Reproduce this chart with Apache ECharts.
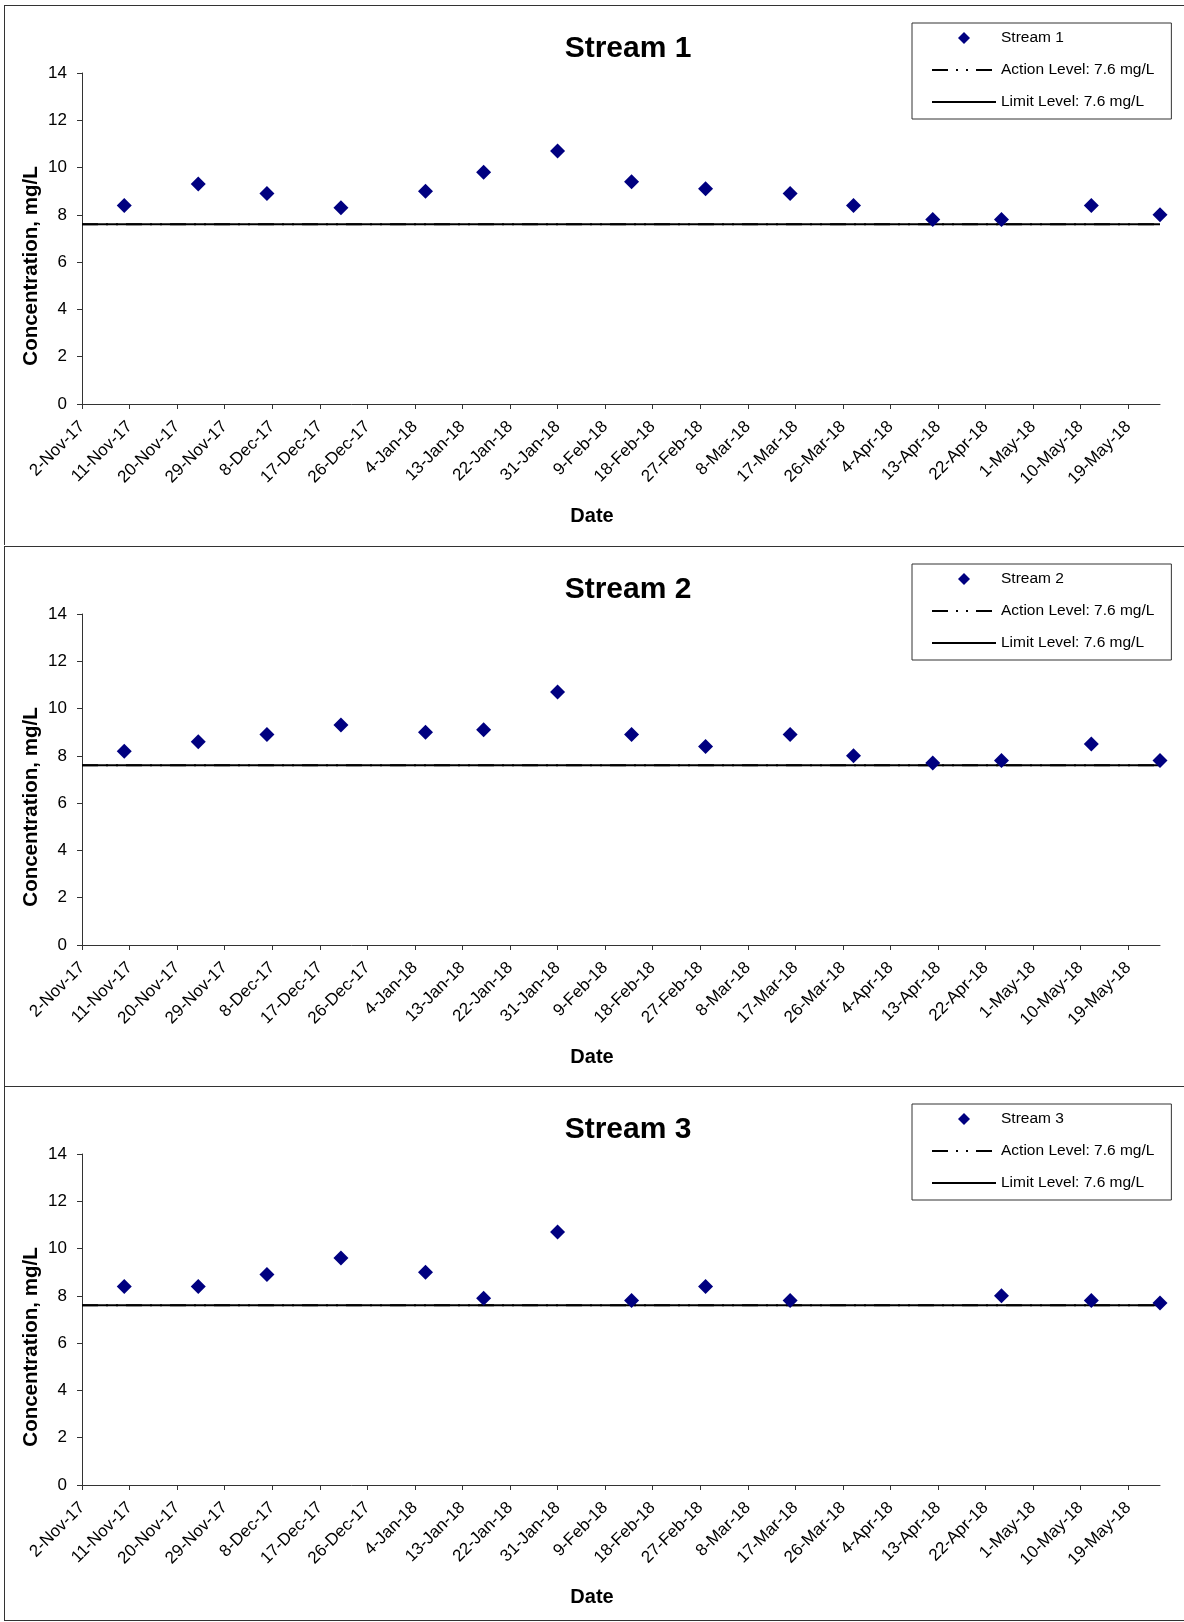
<!DOCTYPE html>
<html>
<head>
<meta charset="utf-8">
<script src="https://cdn.jsdelivr.net/npm/echarts@6/dist/echarts.min.js"></script>
<style>
  body { margin: 0; width: 1184px; height: 1622px; overflow: hidden; background: #fff; }
  .panel {
    position: absolute;
    left: 4px;
    width: 1190px;
    height: 539px;
    border-left: 1px solid #333;
    border-top: 1px solid #333;
  }
  #chart1 { top: 5px; }
  #chart2 { top: 546px; }
  #chart3 { top: 1086px; height: 533px; border-bottom: 1px solid #333; }
</style>
</head>
<body>
<div id="chart1" class="panel"></div>
<div id="chart2" class="panel"></div>
<div id="chart3" class="panel"></div>
<script>
// axis range and tick labels
const axisStart = '2-Nov-17'
const axisEnd = '25-May-18'
const tickLabels = ['2-Nov-17', '11-Nov-17', '20-Nov-17', '29-Nov-17', '8-Dec-17', '17-Dec-17',
  '26-Dec-17', '4-Jan-18', '13-Jan-18', '22-Jan-18', '31-Jan-18', '9-Feb-18', '18-Feb-18',
  '27-Feb-18', '8-Mar-18', '17-Mar-18', '26-Mar-18', '4-Apr-18', '13-Apr-18', '22-Apr-18',
  '1-May-18', '10-May-18', '19-May-18']
const yTicks = [0, 2, 4, 6, 8, 10, 12, 14]

const actionLevel = 7.6
const limitLevel = 7.6

// sample dates and concentrations
const dates12 = ['10-Nov-17', '24-Nov-17', '7-Dec-17', '21-Dec-17', '6-Jan-18', '17-Jan-18',
  '31-Jan-18', '14-Feb-18', '28-Feb-18', '16-Mar-18', '28-Mar-18', '12-Apr-18', '25-Apr-18',
  '12-May-18', '25-May-18']
const stream1 = [8.4, 9.3, 8.9, 8.3, 9.0, 9.8, 10.7, 9.4, 9.1, 8.9, 8.4, 7.8, 7.8, 8.4, 8.0]
const stream2 = [8.2, 8.6, 8.9, 9.3, 9.0, 9.1, 10.7, 8.9, 8.4, 8.9, 8.0, 7.7, 7.8, 8.5, 7.8]
const dates3 = ['10-Nov-17', '24-Nov-17', '7-Dec-17', '21-Dec-17', '6-Jan-18', '17-Jan-18',
  '31-Jan-18', '14-Feb-18', '28-Feb-18', '16-Mar-18', '25-Apr-18', '12-May-18', '25-May-18']
const stream3 = [8.4, 8.4, 8.9, 9.6, 9.0, 7.9, 10.7, 7.8, 8.4, 7.8, 8.0, 7.8, 7.7]

const months = ['Jan', 'Feb', 'Mar', 'Apr', 'May', 'Jun', 'Jul', 'Aug', 'Sep', 'Oct', 'Nov', 'Dec']
function toUtc(s) {
  const p = s.split('-')
  return Date.UTC(2000 + Number(p[2]), months.indexOf(p[1]), Number(p[0]))
}
const base = toUtc(axisStart)
// days since the first tick
function dayOf(s) {
  return Math.round((toUtc(s) - base) / 86400000)
}

const font = 'Liberation Sans'
const tickDays = tickLabels.map(dayOf)
const labelByDay = {}
tickLabels.forEach((t, i) => { labelByDay[tickDays[i]] = t })

const actionName = 'Action Level: 7.6 mg/L'
const limitName = 'Limit Level: 7.6 mg/L'
// hide the dot that echarts puts in the middle of line legend icons
const noDot = { color: 'rgba(0,0,0,0)', borderColor: 'rgba(0,0,0,0)', borderWidth: 0 }

function drawPanel(id, name, dates, values) {
  let myChart = echarts.init(document.getElementById(id))
  const xMin = dayOf(axisStart)
  const xMax = dayOf(axisEnd)
  let option = {
    animation: false,
    title: {
      text: name,
      left: 623,
      top: 28,
      padding: 0,
      textAlign: 'center',
      textStyle: { fontFamily: font, fontSize: 30, fontWeight: 'bold', color: '#000' }
    },
    legend: {
      orient: 'vertical',
      left: 907,
      top: 17,
      padding: [7, 17, 9, 19],
      itemGap: 16,
      itemWidth: 64,
      itemHeight: 12,
      symbolKeepAspect: true,
      borderColor: '#333',
      borderWidth: 1,
      textStyle: { fontFamily: font, fontSize: 15.5, color: '#000' },
      data: [
        { name: name, icon: 'path://M5,0 L10,5 L5,10 L0,5 Z' },
        { name: actionName, itemStyle: noDot },
        { name: limitName, itemStyle: noDot }
      ]
    },
    grid: { left: 77, top: 67, width: 1078, height: 331 },
    xAxis: {
      type: 'value',
      min: xMin,
      max: xMax,
      interval: 9,
      splitLine: { show: false },
      axisLine: { lineStyle: { color: '#333' } },
      axisTick: { customValues: tickDays, length: 5, lineStyle: { color: '#333' } },
      axisLabel: {
        customValues: tickDays,
        rotate: 45,
        margin: 20,
        fontFamily: font,
        fontSize: 17,
        color: '#000',
        formatter: (v) => labelByDay[v] || ''
      }
    },
    yAxis: {
      type: 'value',
      min: yTicks[0],
      max: yTicks[yTicks.length - 1],
      interval: 2,
      splitLine: { show: false },
      axisLine: { show: true, lineStyle: { color: '#333' } },
      axisTick: { show: true, length: 5, lineStyle: { color: '#333' } },
      axisLabel: { margin: 15, fontFamily: font, fontSize: 17, color: '#000' }
    },
    graphic: [
      {
        type: 'text',
        x: 26,
        y: 260,
        rotation: Math.PI / 2,
        style: {
          text: 'Concentration, mg/L',
          font: 'bold 20.5px ' + font,
          fill: '#000',
          align: 'center',
          verticalAlign: 'middle'
        }
      },
      {
        type: 'text',
        x: 587,
        y: 510,
        style: {
          text: 'Date',
          font: 'bold 20px ' + font,
          fill: '#000',
          align: 'center',
          verticalAlign: 'middle'
        }
      }
    ],
    series: [
      {
        name: actionName,
        type: 'line',
        symbol: 'none',
        data: [[xMin, actionLevel], [xMax, actionLevel]],
        lineStyle: { color: '#000', width: 2, type: [16, 8, 2, 8, 2, 8] },
        itemStyle: { color: '#000' },
        z: 2
      },
      {
        name: limitName,
        type: 'line',
        symbol: 'none',
        data: [[xMin, limitLevel], [xMax, limitLevel]],
        lineStyle: { color: '#000', width: 2 },
        itemStyle: { color: '#000' },
        z: 3
      },
      {
        name: name,
        type: 'scatter',
        symbol: 'diamond',
        symbolSize: 15,
        clip: false,
        itemStyle: { color: '#000080', opacity: 1 },
        data: dates.map((d, i) => [dayOf(d), values[i]]),
        z: 4
      }
    ]
  }
  option && myChart.setOption(option)
}

drawPanel('chart1', 'Stream 1', dates12, stream1)
drawPanel('chart2', 'Stream 2', dates12, stream2)
drawPanel('chart3', 'Stream 3', dates3, stream3)
</script>
</body>
</html>
